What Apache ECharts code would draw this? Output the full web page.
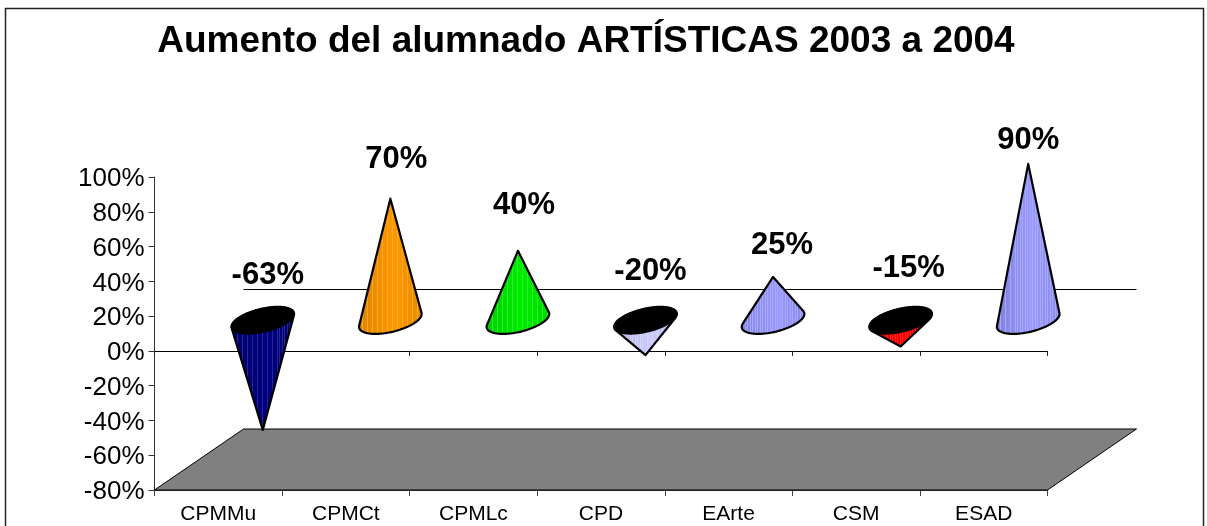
<!DOCTYPE html>
<html lang="es" style="height: 100%">
<head>
    <meta charset="UTF-8">
    <title>Aumento del alumnado ARTÍSTICAS 2003 a 2004</title>
    <script src="https://cdn.jsdelivr.net/npm/echarts@6/dist/echarts.min.js"></script>
</head>
<body style="height: 100%; margin: 0; background: #fff">
<div id="main" style="width: 1207px; height: 526px"></div>
<script>
    var categories = ['CPMMu', 'CPMCt', 'CPMLc', 'CPD', 'EArte', 'CSM', 'ESAD'];
    var increase = [-63, 70, 40, -20, 25, -15, 90];
    var axisTicks = [-80, -60, -40, -20, 0, 20, 40, 60, 80, 100];

    var coneColors = ['#000080', '#FF9900', '#00EE00', '#CCCCFF', '#9999FF', '#FF0000', '#9999FF'];
    // where each label sits, from the middle of the cone base (hand placed in the original)
    var labelShift = [[5, -45], [6, -161], [6, -115], [5, -49], [9, -75], [8, -52], [0, -180]];

    var depthX = 89, depthY = -61;       // 3d floor depth in px
    var font = '"Liberation Sans", Arial, sans-serif';

    function mix(hex, other, k) {
        var a = parseInt(hex.slice(1), 16), b = parseInt(other.slice(1), 16);
        var r = (a >> 16) * (1 - k) + (b >> 16) * k;
        var g = ((a >> 8) & 255) * (1 - k) + ((b >> 8) & 255) * k;
        var bl = (a & 255) * (1 - k) + (b & 255) * k;
        return 'rgb(' + Math.round(r) + ',' + Math.round(g) + ',' + Math.round(bl) + ')';
    }

    // the excel cone fill: darker sides with thin light streaks
    function coneFill(color) {
        var stops = [], n = 26;
        for (var k = 0; k < n; k++) {
            var edge = Math.abs((k + 0.5) / n - 0.58) * 0.25;
            var base = mix(color, '#000000', edge);
            var streak = mix(color, '#FFFFFF', 0.15);
            stops.push({offset: k / n, color: base});
            stops.push({offset: (k + 0.7) / n, color: base});
            stops.push({offset: (k + 0.7) / n, color: streak});
            stops.push({offset: (k + 1) / n, color: streak});
        }
        return new echarts.graphic.LinearGradient(0, 0, 1, 0, stops);
    }

    function ellipsePoints(cx, cy) {
        var pts = [];
        for (var d = 0; d < 360; d += 4) {
            var t = d * Math.PI / 180;
            pts.push([cx + 27.5 * Math.cos(t) + 15 * Math.sin(t), cy - 13.5 * Math.sin(t)]);
        }
        return pts;
    }

    // outline of the cone: tip plus the far side of the base between both tangents
    function conePoints(ring, tip) {
        var first = 0, last = 0;
        var cx = 0, cy = 0;
        ring.forEach(function (p) { cx += p[0] / ring.length; cy += p[1] / ring.length; });
        var midAng = Math.atan2(cy - tip[1], cx - tip[0]);
        var lo = Infinity, hi = -Infinity;
        ring.forEach(function (p, i) {
            var a = Math.atan2(p[1] - tip[1], p[0] - tip[0]) - midAng;
            a = Math.atan2(Math.sin(a), Math.cos(a));
            if (a < lo) { lo = a; first = i; }
            if (a > hi) { hi = a; last = i; }
        });
        function walk(from, to) {
            var out = [], i = from;
            while (true) {
                out.push(ring[i]);
                if (i === to) break;
                i = (i + 1) % ring.length;
            }
            return out;
        }
        function reach(arc) {
            var p = arc[Math.floor(arc.length / 2)];
            return Math.hypot(p[0] - tip[0], p[1] - tip[1]);
        }
        var arcA = walk(first, last), arcB = walk(last, first);
        return [tip].concat(reach(arcA) > reach(arcB) ? arcA : arcB);
    }

    function renderCone(params, api) {
        var i = api.value(0), v = api.value(1);
        var zero = api.coord([i, 0]), top = api.coord([i, v]);
        var cx = zero[0] + depthX / 2, cy = zero[1] + depthY / 2;
        var tip = [top[0] + depthX / 2, top[1] + depthY / 2];
        var ring = ellipsePoints(cx, cy);
        var children = [{
            type: 'polygon',
            shape: {points: conePoints(ring, tip)},
            style: {fill: coneFill(coneColors[i]), stroke: '#000', lineWidth: 2.2, lineJoin: 'round'}
        }];
        if (v < 0) {
            children.push({
                type: 'polygon',
                shape: {points: ring},
                style: {fill: '#000', stroke: '#000', lineWidth: 1.5}
            });
        }
        children.push({
            type: 'text',
            style: {
                text: v + '%',
                x: cx + labelShift[i][0],
                y: cy + labelShift[i][1],
                align: 'center',
                verticalAlign: 'middle',
                fill: '#000',
                font: 'bold 31px ' + font
            }
        });
        return {type: 'group', children: children};
    }

    function renderFloor(params, api) {
        var g = params.coordSys;
        var bottom = g.y + g.height, right = g.x + g.width;
        var wallY = Math.round(api.coord([0, 0])[1] + depthY) - 0.5;
        return {
            type: 'group',
            children: [{
                type: 'polygon',
                shape: {points: [[g.x, bottom], [g.x + depthX, bottom + depthY], [right + depthX, bottom + depthY], [right, bottom]]},
                style: {fill: '#808080', stroke: '#000', lineWidth: 1}
            }, {
                type: 'line',
                shape: {x1: g.x + depthX, y1: wallY, x2: right + depthX, y2: wallY},
                style: {stroke: '#000', lineWidth: 1}
            }]
        };
    }

    var myChart = echarts.init(document.getElementById('main'));
    myChart.setOption({
        animation: false,
        backgroundColor: '#fff',
        title: {
            text: 'Aumento del alumnado ARTÍSTICAS 2003 a 2004',
            left: 581,
            top: 18,
            textAlign: 'center',
            textStyle: {fontFamily: font, fontSize: 37, fontWeight: 'bold', color: '#000'}
        },
        graphic: [{
            type: 'rect',
            silent: true,
            shape: {x: 5.5, y: 8.5, width: 1198, height: 540},
            style: {fill: 'none', stroke: '#222', lineWidth: 1.5}
        }],
        grid: {left: 154.5, top: 177, width: 893, height: 313},
        xAxis: [{
            type: 'category',
            data: categories,
            axisLine: {lineStyle: {color: '#000', width: 1}},
            axisTick: {show: true, length: 5, lineStyle: {color: '#222'}},
            axisLabel: {show: false}
        }, {
            type: 'category',
            data: categories,
            position: 'bottom',
            axisLine: {onZero: false, lineStyle: {color: '#000', width: 1.5}},
            axisTick: {show: true, length: 6, lineStyle: {color: '#444'}},
            axisLabel: {color: '#000', fontFamily: font, fontSize: 21, margin: 14}
        }],
        yAxis: {
            type: 'value',
            min: axisTicks[0],
            max: axisTicks[axisTicks.length - 1],
            interval: 20,
            splitLine: {show: false},
            axisLine: {show: true, onZero: false, lineStyle: {color: '#333'}},
            axisTick: {show: true, length: 6, lineStyle: {color: '#333'}},
            axisLabel: {
                margin: 10,
                formatter: '{v|{value}%}',
                rich: {v: {color: '#000', fontFamily: font, fontSize: 26, padding: [4, 0, 0, 0]}}
            }
        },
        series: [{
            type: 'custom',
            name: 'floor',
            silent: true,
            z: 1,
            renderItem: renderFloor,
            encode: {x: 0, y: 1},
            data: [[0, axisTicks[0]]]
        }, {
            type: 'custom',
            name: 'Aumento',
            z: 3,
            renderItem: renderCone,
            encode: {x: 0, y: 1},
            data: increase.map(function (v, i) { return [i, v]; })
        }]
    });
</script>
</body>
</html>
